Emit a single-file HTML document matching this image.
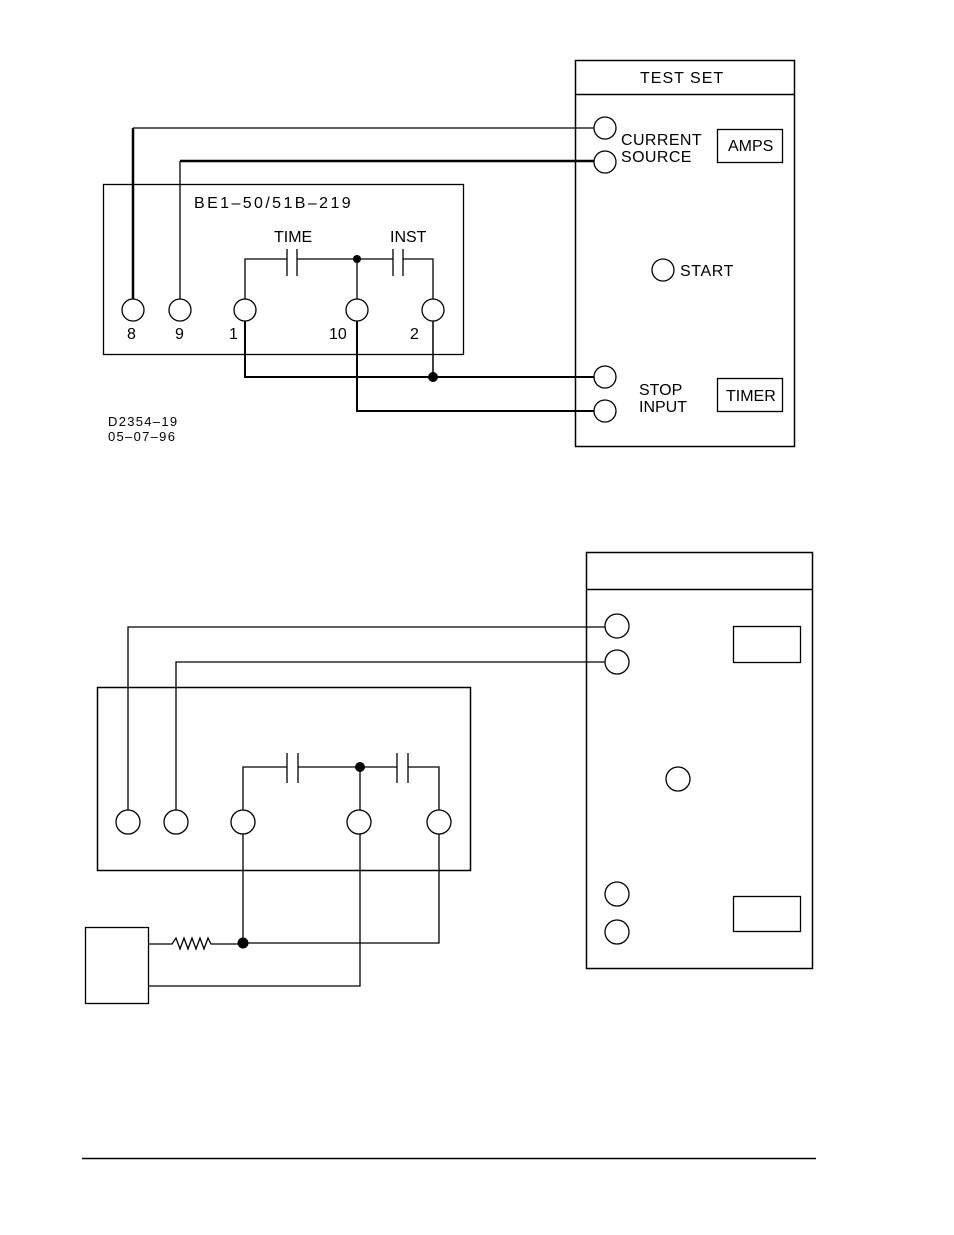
<!DOCTYPE html>
<html><head><meta charset="utf-8"><style>
html,body{margin:0;padding:0;background:#fff;}
svg{display:block;}
text{font-family:"Liberation Sans",sans-serif;fill:#000;}
</style></head><body>
<svg width="954" height="1235" viewBox="0 0 954 1235" xmlns="http://www.w3.org/2000/svg">
<g fill="none" stroke="#000" stroke-width="1.3">
<rect x="575.5" y="60.5" width="219" height="386" stroke-width="1.5"/>
<line x1="575" y1="94.5" x2="794" y2="94.5" stroke-width="1.5"/>
<circle cx="605" cy="128" r="11"/>
<circle cx="605" cy="162" r="11"/>
<rect x="717.5" y="129.5" width="65" height="33"/>
<circle cx="663" cy="270" r="11"/>
<circle cx="605" cy="377" r="11"/>
<circle cx="605" cy="411" r="11"/>
<rect x="717.5" y="378.5" width="65" height="33"/>
<rect x="103.5" y="184.5" width="360" height="170"/>
<circle cx="133" cy="310" r="11"/>
<circle cx="180" cy="310" r="11"/>
<circle cx="245" cy="310" r="11"/>
<circle cx="357" cy="310" r="11"/>
<circle cx="433" cy="310" r="11"/>
<polyline points="133,299 133,128" stroke-width="2.5"/>
<polyline points="133,128 594,128"/>
<polyline points="180,299 180,161"/>
<polyline points="180,161 594,161" stroke-width="2.5"/>
<polyline points="245,299 245,259 287,259"/>
<line x1="287" y1="249" x2="287" y2="276"/>
<line x1="297" y1="249" x2="297" y2="276"/>
<polyline points="297,259 393,259"/>
<line x1="393" y1="249" x2="393" y2="276"/>
<line x1="403" y1="249" x2="403" y2="276"/>
<polyline points="403,259 433,259 433,299"/>
<line x1="357" y1="259" x2="357" y2="299"/>
<polyline points="245,321 245,377 594,377" stroke-width="2"/>
<line x1="433" y1="321" x2="433" y2="377" stroke-width="1.5"/>
<polyline points="357,321 357,411 594,411" stroke-width="2"/>

<rect x="586.5" y="552.5" width="226" height="416" stroke-width="1.5"/>
<line x1="586" y1="589.5" x2="812" y2="589.5" stroke-width="1.5"/>
<circle cx="617" cy="626" r="12"/>
<circle cx="617" cy="662" r="12"/>
<rect x="733.5" y="626.5" width="67" height="36"/>
<circle cx="678" cy="779" r="12"/>
<circle cx="617" cy="894" r="12"/>
<circle cx="617" cy="932" r="12"/>
<rect x="733.5" y="896.5" width="67" height="35"/>
<rect x="97.5" y="687.5" width="373" height="183" stroke-width="1.5"/>
<circle cx="128" cy="822" r="12"/>
<circle cx="176" cy="822" r="12"/>
<circle cx="243" cy="822" r="12"/>
<circle cx="359" cy="822" r="12"/>
<circle cx="439" cy="822" r="12"/>
<polyline points="128,810 128,627 605,627"/>
<polyline points="176,810 176,662 605,662"/>
<polyline points="243,810 243,767 287,767"/>
<line x1="287" y1="753" x2="287" y2="783"/>
<line x1="298" y1="753" x2="298" y2="783"/>
<polyline points="298,767 397,767"/>
<line x1="397" y1="753" x2="397" y2="783"/>
<line x1="408" y1="753" x2="408" y2="783"/>
<polyline points="408,767 439,767 439,810"/>
<line x1="360" y1="767" x2="360" y2="810"/>
<line x1="243" y1="834" x2="243" y2="943"/>
<polyline points="439,834 439,943 243,943"/>
<polyline points="360,834 360,986 148,986"/>
<rect x="85.5" y="927.5" width="63" height="76"/>
<polyline points="148,944 172,944 176,938 180,949 184,938 188,949 192,938 196,949 200,938 204,949 208,938 211,944 243,944"/>
<line x1="82" y1="1158.5" x2="816" y2="1158.5" stroke-width="1.5"/>
</g>
<g fill="#000">
<circle cx="357" cy="259" r="4"/>
<circle cx="433" cy="377" r="5"/>
<circle cx="360" cy="767" r="5"/>
<circle cx="243" cy="943" r="5.5"/>
</g>
<g font-size="16">
<text x="640" y="83" letter-spacing="1">TEST SET</text>
<text x="621" y="145" letter-spacing="0.4">CURRENT</text>
<text x="621" y="162" letter-spacing="0.4">SOURCE</text>
<text x="728" y="151">AMPS</text>
<text x="680" y="276" letter-spacing="0.6">START</text>
<text x="639" y="395">STOP</text>
<text x="639" y="412">INPUT</text>
<text x="726" y="401">TIMER</text>
<text x="194" y="208" letter-spacing="2.4">BE1–50/51B–219</text>
<text x="274" y="242">TIME</text>
<text x="390" y="242">INST</text>
<text x="127" y="339">8</text>
<text x="175" y="339">9</text>
<text x="229" y="339">1</text>
<text x="329" y="339">10</text>
<text x="410" y="339">2</text>
</g>
<g font-size="13" letter-spacing="1.3">
<text x="108" y="426">D2354–19</text>
<text x="108" y="441">05–07–96</text>
</g>
</svg>
</body></html>
